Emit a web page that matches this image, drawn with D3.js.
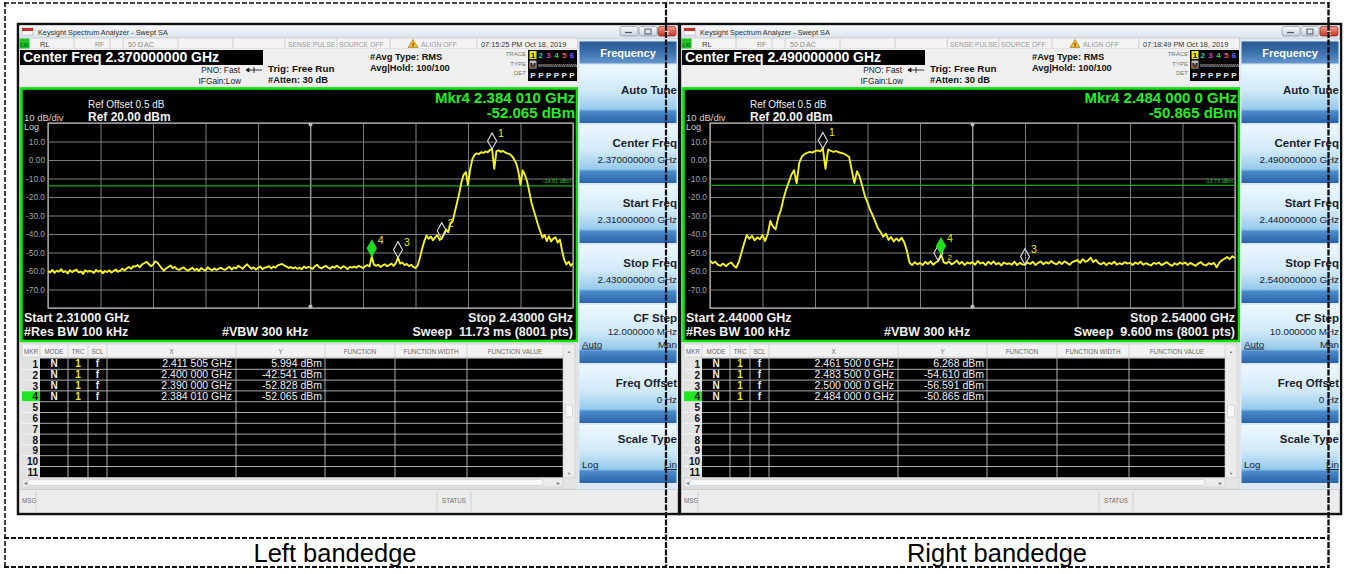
<!DOCTYPE html>
<html><head><meta charset="utf-8">
<script src="https://cdn.jsdelivr.net/npm/d3@7"></script>
<style>body{margin:0;background:#fff}svg{display:block}text{font-family:"Liberation Sans",Arial,sans-serif}</style>
</head><body><svg id="c" width="1351" height="574"></svg>
<script>
// ---------------- data ----------------
const captions = ["Left bandedge", "Right bandedge"];
const centerFreqText = ["2.370000000 GHz", "2.490000000 GHz"];
const startFreqs = [2.31, 2.44];
const stopFreqs = [2.43, 2.54];
const startText = ["2.31000 GHz", "2.44000 GHz"];
const stopText = ["2.43000 GHz", "2.54000 GHz"];
const sweepText = ["11.73 ms (8001 pts)", "9.600 ms (8001 pts)"];
const timeText = ["07:15:25 PM Oct 18, 2019", "07:18:49 PM Oct 18, 2019"];
const mkr4FreqText = ["2.384 010 GHz", "2.484 000 0 GHz"];
const mkr4LevelText = ["-52.065 dBm", "-50.865 dBm"];
const displayLineLevel = [-14.01, -13.73];
const displayLineText = ["-14.01 dBm", "-13.73 dBm"];
const cfStepText = ["12.000000 MHz", "10.000000 MHz"];
const startKeyText = ["2.310000000 GHz", "2.440000000 GHz"];
const stopKeyText = ["2.430000000 GHz", "2.540000000 GHz"];

const refLevel = 20, bottomLevel = -80;
const yGridLevels = [20, 10, 0, -10, -20, -30, -40, -50, -60, -70, -80];
const yTickLabels = ["", "10.0", "0.00", "-10.0", "-20.0", "-30.0", "-40.0", "-50.0", "-60.0", "-70.0", ""];

const markerIds = [1, 2, 3, 4];
const markerFreqL = [2.411505, 2.400, 2.390, 2.38401];
const markerLevelL = [5.994, -42.541, -52.828, -52.065];
const markerXTextL = ["2.411 505 GHz", "2.400 000 GHz", "2.390 000 GHz", "2.384 010 GHz"];
const markerYTextL = ["5.994 dBm", "-42.541 dBm", "-52.828 dBm", "-52.065 dBm"];
const markerFreqR = [2.4615, 2.4835, 2.500, 2.484];
const markerLevelR = [6.268, -54.610, -56.591, -50.865];
const markerXTextR = ["2.461 500 0 GHz", "2.483 500 0 GHz", "2.500 000 0 GHz", "2.484 000 0 GHz"];
const markerYTextR = ["6.268 dBm", "-54.610 dBm", "-56.591 dBm", "-50.865 dBm"];

const traceStep = 0.0005; // GHz between trace samples
const traceLeft = [
 -60,-60.8,-59.4,-61,-59.8,-60.4,-59,-60.6,-60,-61.4,-59.6,-60.6,-59.8,-59.2,-60.8,-60.2,-61.6,-59.6,-60.4,-60,
 -60.2,-61,-59.4,-60.4,-59.8,-61.2,-60,-60.6,-59.6,-60.8,-60,-59.2,-60.4,-59.8,-58.8,-59.6,-58.6,-57.8,-58.8,-57.4,
 -57.6,-56.8,-58,-56.4,-55.8,-55,-56.2,-57.4,-56.6,-54.8,-55.4,-57,-58.6,-59.8,-58.6,-57.8,-57,-58.4,-57.8,-59,
 -59.4,-58.6,-58,-59.2,-59.8,-59,-58.2,-59.6,-58.8,-60,-58.4,-59.2,-59.8,-58,-59,-59.6,-58.6,-59.4,-58.8,-58.2,
 -59,-59.4,-58.4,-57.8,-59.2,-58,-58.6,-57.2,-58,-58.8,-57.4,-56.4,-57.6,-58.8,-58,-59.2,-58.4,-57.6,-59,-58.2,
 -58,-57.4,-58.6,-57.6,-58.2,-57,-56.6,-56.2,-57,-57.6,-58.4,-57.8,-58.6,-58,-58.8,-58.2,-59,-57.6,-58.4,-57.8,
 -58.2,-58.8,-57.4,-56.6,-58,-58.6,-57.8,-57.2,-58.2,-58.8,-57.6,-58.2,-57.2,-58,-58.6,-57.4,-58,-59,-57.8,-58.2,
 -57.6,-58.2,-57.2,-57.8,-58.4,-57.4,-56.8,-57.6,-52.1,-56.6,-57.2,-56.6,-57.8,-57,-56.4,-57.4,-56.8,-56,-57.2,-55.8,
 -52.8,-56,-55.4,-56.8,-56.2,-57.4,-56.6,-57.8,-58.4,-57,-53,-48,-44,-40.8,-42.6,-41.4,-43.4,-41.8,-40.6,-43.2,
 -42.5,-40,-37.5,-39,-34,-33,-28,-23,-18,-12,-8,-6.5,-13.5,-5,0.5,2.8,3.6,3.2,4.2,3.8,
 4.6,4.2,5.4,6.0,-4.8,4.8,5.2,4.4,4.9,4.1,3.6,3.2,2.2,0.6,-1.8,-6,-13.4,-5.6,-8,-11.5,
 -17,-23,-27,-31,-35,-38.5,-42,-40.5,-43.8,-41.2,-44,-42.5,-41.8,-44.6,-43,-49,-54,-56.5,-55,-57.2,-55.8
];
const traceRight = [
 -54.5,-55.8,-55,-56.6,-57.2,-56,-57.4,-56.2,-55.4,-57,-58.2,-55,-50,-45,-40.5,-42.6,-41,-43.4,-41.8,-42.8,
 -40.6,-43.8,-40,-33,-36,-37.5,-31,-27,-21,-16,-12,-8,-5.5,-12.6,-1.5,1.8,3.2,3.8,4.4,4.0,
 4.8,5.2,4.6,6.3,-4.8,5.6,5.0,4.4,4.8,4.2,3.8,3.4,2.6,1.6,-5.5,-12.5,-6,-9,-14,-19.5,
 -23,-27,-30,-33.5,-37,-39,-41.5,-39.8,-43.2,-41.6,-44,-42.4,-43.8,-42,-44.6,-49,-55.5,-56.8,-55.2,-56.4,
 -55.6,-56.8,-55,-56.2,-54.8,-56.6,-55.4,-54.6,-50.9,-55.2,-56,-54.8,-56.4,-55.6,-54.4,-56.2,-55,-56.8,-55.4,-56,
 -55.2,-56.6,-54.6,-56,-55.4,-56.8,-55,-56.2,-54.8,-56.4,-55.6,-57,-55.4,-56.2,-55.8,-56.6,-55,-56.8,-55.6,-56.4,
 -56.6,-55.4,-56.2,-55,-56.8,-55.6,-54.8,-56.4,-55.2,-56,-54.6,-55.8,-56.4,-55,-56.2,-54.8,-55.6,-56.6,-55.2,-54.6,
 -54.2,-55.6,-53.6,-55,-54.4,-52.8,-55.2,-54,-55.8,-56.4,-55.4,-56.8,-55.6,-56.2,-55,-56.6,-55.8,-56.4,-55.2,-56,
 -55.6,-56.8,-55.4,-56.2,-55,-56.6,-55.8,-56.4,-57,-55.6,-56.2,-55.4,-56.8,-56,-55.2,-56.4,-57.2,-55.8,-56.6,-55.4,
 -56.2,-55.4,-56.8,-55.6,-56.4,-57.2,-56,-55.2,-56.6,-57,-55.8,-56.4,-55.6,-58,-55.5,-54.2,-53.4,-52.4,-53.6,-52,-53
];
const tableCols = ["MKR","MODE","TRC","SCL","X","Y","FUNCTION","FUNCTION WIDTH","FUNCTION VALUE"];
const softKeys = ["Auto Tune","Center Freq","Start Freq","Stop Freq","CF Step","Freq Offset","Scale Type"];

// ---------------- drawing ----------------
const svg = d3.select("#c");
const defs = svg.append("defs");
function grad(id, stops){
  const g = defs.append("linearGradient").attr("id", id).attr("x1",0).attr("y1",0).attr("x2",0).attr("y2",1);
  stops.forEach(s => g.append("stop").attr("offset", s[0]).attr("stop-color", s[1]));
}
grad("gTitle", [[0,"#f8fafc"],[1,"#d9e2ec"]]);
grad("gKey", [[0,"#eef8fe"],[0.45,"#cfe9f8"],[0.76,"#96c9ec"],[0.8,"#4b8bcb"],[1,"#2a64a9"]]);
grad("gHead", [[0,"#27578f"],[0.5,"#3b70ae"],[1,"#6597cc"]]);
grad("gBtn", [[0,"#fbfcfd"],[1,"#c5cfdb"]]);
grad("gClose", [[0,"#f29b8f"],[1,"#c6321f"]]);

function T(g, x, y, s, o = {}){
  const t = g.append("text").attr("x", x).attr("y", y).text(s)
    .attr("font-size", o.size || 10).attr("fill", o.fill || "#000");
  if (o.bold) t.attr("font-weight", "bold");
  if (o.anchor) t.attr("text-anchor", o.anchor);
  if (o.ul) t.attr("text-decoration", "underline");
  return t;
}
function R(g, x, y, w, h, fill, stroke, sw){
  const r = g.append("rect").attr("x", x).attr("y", y).attr("width", w).attr("height", h).attr("fill", fill || "none");
  if (stroke) r.attr("stroke", stroke).attr("stroke-width", sw || 1);
  return r;
}
function L(g, x1, y1, x2, y2, c, w){
  return g.append("line").attr("x1",x1).attr("y1",y1).attr("x2",x2).attr("y2",y2).attr("stroke",c).attr("stroke-width",w||1);
}

function drawScreen(s, x0, trace, mF, mL, mX, mY){
  const g = svg.append("g");
  const X = r => x0 + r;
  // window frame
  R(g, x0, 24, 661, 490, "#d8d8d8", "#111", 2.5);
  // title bar
  R(g, X(1.5), 25.5, 658, 12.5, "url(#gTitle)");
  R(g, X(4), 28, 11, 7, "#fff", "#999", 0.5);
  R(g, X(4), 28, 11, 3, "#c8302a");
  T(g, X(20), 35, "Keysight Spectrum Analyzer - Swept SA", {size: 7.3, fill: "#333"});
  [602, 621].forEach(b => R(g, X(b), 26.5, 18, 9.5, "url(#gBtn)", "#8797ab", 0.7).attr("rx", 2));
  R(g, X(640), 26.5, 18, 9.5, "url(#gClose)", "#8a2a20", 0.7).attr("rx", 2);
  L(g, X(607), 32.5, X(614), 32.5, "#556", 1.2);
  R(g, X(627), 29, 6, 5, "none", "#556", 1);
  T(g, X(649), 34.5, "x", {size: 8, fill: "#fff", bold: true, anchor: "middle"});

  // status row
  R(g, X(1.5), 38, 558, 11, "#f3f3f3", "#bcbcbc", 0.6);
  R(g, X(1.5), 38.5, 10, 10, "#1fc21f");
  T(g, X(2.5), 46.5, "LXI", {size: 5, fill: "#063", bold: true});
  [56, 92, 105, 160, 215, 267, 319, 372, 459].forEach(v => L(g, X(v), 38.5, X(v), 48.5, "#c4c4c4", 0.8));
  T(g, X(22), 46.5, "RL", {size: 7.5, fill: "#333"});
  T(g, X(77), 46.5, "RF", {size: 7, fill: "#888"});
  T(g, X(110), 46.5, "50 Ω", {size: 7, fill: "#888"});
  T(g, X(126), 46.5, "AC", {size: 7, fill: "#888"});
  T(g, X(270), 46.5, "SENSE:PULSE", {size: 6.8, fill: "#9a9a9a"});
  T(g, X(321), 46.5, "SOURCE OFF", {size: 6.8, fill: "#9a9a9a"});
  g.append("path").attr("d", `M${X(390)},47.5 L${X(395)},39.5 L${X(400)},47.5 Z`).attr("fill", "#f0c020").attr("stroke", "#806000").attr("stroke-width", 0.5);
  T(g, X(395), 46.8, "!", {size: 6, bold: true, anchor: "middle"});
  T(g, X(403), 46.5, "ALIGN OFF", {size: 6.8, fill: "#9a9a9a"});
  T(g, X(463), 46.5, timeText[s], {size: 7.3, fill: "#333"});

  // header info
  R(g, X(1.5), 49, 558, 38, "#efefef");
  R(g, X(2), 50, 243, 15, "#000");
  T(g, X(5), 62, "Center Freq " + centerFreqText[s], {size: 14, bold: true, fill: "#fff"});
  T(g, X(222), 73, "PNO: Fast", {size: 8.3, fill: "#222", anchor: "end"});
  T(g, X(223), 84, "IFGain:Low", {size: 8.3, fill: "#222", anchor: "end"});
  g.append("path").attr("d", `M${X(228)},70 H${X(244)} M${X(236)},67 V73 M${X(228)},70 l3,-2 v4 z`).attr("stroke", "#222").attr("stroke-width", 0.9).attr("fill", "#222");
  T(g, X(250), 72, "Trig: Free Run", {size: 9.8, bold: true, fill: "#111"});
  T(g, X(250), 83, "#Atten: 30 dB", {size: 9.3, bold: true, fill: "#111"});
  T(g, X(352), 60, "#Avg Type: RMS", {size: 9.3, bold: true, fill: "#111"});
  T(g, X(352), 71, "Avg|Hold: 100/100", {size: 9.3, bold: true, fill: "#111"});
  T(g, X(508), 56, "TRACE", {size: 6, fill: "#777", anchor: "end"});
  T(g, X(508), 65.5, "TYPE", {size: 6, fill: "#777", anchor: "end"});
  T(g, X(508), 75, "DET", {size: 6, fill: "#777", anchor: "end"});
  R(g, X(510), 50, 49, 31, "#000");
  const trColors = ["#111", "#10d0d0", "#d040c8", "#40d040", "#ff4a6a", "#6a6aff"];
  R(g, X(511.5), 51, 7, 8, "#e6e600");
  ["1","2","3","4","5","6"].forEach((d, k) => T(g, X(515 + k * 7.8), 58, d, {size: 8, bold: true, fill: trColors[k], anchor: "middle"}));
  R(g, X(511.5), 60.5, 7, 8, "#bbb");
  T(g, X(515), 67.5, "M", {size: 7, bold: true, fill: "#000", anchor: "middle"});
  T(g, X(520), 67, "WWWWWWWWWW", {size: 4.2, fill: "#ddd"});
  ["P","P","P","P","P","P"].forEach((d, k) => T(g, X(515 + k * 7.8), 77.5, d, {size: 8, bold: true, fill: "#eee", anchor: "middle"}));

  // plot area
  R(g, X(3.5), 88.5, 555.5, 252.5, "#000", "#00e600", 2.6);
  const x = d3.scaleLinear().domain([startFreqs[s], stopFreqs[s]]).range([X(30), X(555)]);
  const y = d3.scaleLinear().domain([refLevel, bottomLevel]).range([123, 308]);
  T(g, X(70), 108, "Ref Offset 0.5 dB", {size: 10, fill: "#eee"});
  T(g, X(70), 121, "Ref 20.00 dBm", {size: 12, bold: true, fill: "#f2f2f2"});
  T(g, X(6), 121, "10 dB/div", {size: 9.5, fill: "#cfcfcf"});
  T(g, X(6), 129.5, "Log", {size: 9, fill: "#cfcfcf"});
  T(g, X(557), 103, "Mkr4 " + mkr4FreqText[s], {size: 15, bold: true, fill: "#22ee22", anchor: "end"});
  T(g, X(557), 117.5, mkr4LevelText[s], {size: 15, bold: true, fill: "#22ee22", anchor: "end"});

  // graticule
  const xTicks = d3.range(11).map(k => startFreqs[s] + k * (stopFreqs[s] - startFreqs[s]) / 10);
  g.append("g").attr("transform", "translate(0,123)")
    .call(d3.axisBottom(x).tickValues(xTicks).tickSize(185).tickFormat(""))
    .call(a => { a.select(".domain").remove(); a.selectAll("line").attr("stroke", "#7c7c7c"); });
  const ya = g.append("g").attr("transform", `translate(${X(30)},0)`)
    .call(d3.axisLeft(y).tickValues(yGridLevels).tickSize(-525).tickPadding(3).tickFormat((d, i) => yTickLabels[i]));
  ya.select(".domain").remove();
  ya.selectAll("line").attr("stroke", "#7c7c7c");
  ya.attr("font-family", null).attr("font-size", null);
  ya.selectAll("text").attr("fill", "#a6a6a6").attr("font-size", 8.3).attr("font-family", "Liberation Sans, Arial, sans-serif");
  R(g, X(30), 123, 525, 185, "none", "#a8a8a8", 1.3);
  const cx = x(xTicks[5]);
  L(g, cx, 123, cx, 308, "#9a9a9a", 1);
  g.append("circle").attr("cx", cx).attr("cy", 124.5).attr("r", 2).attr("fill", "#bbb");
  g.append("circle").attr("cx", cx).attr("cy", 306.5).attr("r", 2).attr("fill", "#bbb");

  // display line
  L(g, X(30), y(displayLineLevel[s]), X(555), y(displayLineLevel[s]), "#13a813", 1.2);
  T(g, X(553), y(displayLineLevel[s]) - 2.5, displayLineText[s], {size: 5.5, fill: "#22c022", anchor: "end"});

  // trace
  const clipId = "clip" + s;
  defs.append("clipPath").attr("id", clipId).append("rect").attr("x", X(30)).attr("y", 123).attr("width", 525).attr("height", 185);
  const line = d3.line().x((d, i) => x(startFreqs[s] + i * traceStep)).y(d => y(d));
  g.append("path").attr("d", line(trace)).attr("fill", "none").attr("stroke", "#f4f41c")
    .attr("stroke-width", 1.9).attr("stroke-linejoin", "round").attr("clip-path", `url(#${clipId})`);

  // markers (marker 4 drawn last, on top)
  [0, 1, 2, 3].forEach(k => {
    const px = x(mF[k]), py = y(mL[k]);
    const active = markerIds[k] === 4;
    g.append("path").attr("d", `M${px},${py} L${px + 4.5},${py - 8} L${px},${py - 16} L${px - 4.5},${py - 8} Z`)
      .attr("fill", active ? "#1de01d" : "none").attr("stroke", active ? "#1de01d" : "#e0e0e0").attr("stroke-width", 1.1);
    // a label that would collide with marker 4's label is tucked below it
    const hidden = !active && Math.abs(px - x(mF[3])) < 8;
    T(g, px + (hidden ? 9 : 6), py - (hidden ? 1 : 12), String(markerIds[k]), {size: hidden ? 8 : 10.5, fill: "#e8e81a"});
  });

  // bottom plot text
  T(g, X(6), 322, "Start " + startText[s], {size: 12.5, bold: true, fill: "#f0f0f0"});
  T(g, X(6), 336, "#Res BW 100 kHz", {size: 12.5, bold: true, fill: "#f0f0f0"});
  T(g, X(204), 336, "#VBW 300 kHz", {size: 12.5, bold: true, fill: "#f0f0f0"});
  T(g, X(555), 322, "Stop " + stopText[s], {size: 12.5, bold: true, fill: "#f0f0f0", anchor: "end"});
  T(g, X(555), 336, "Sweep  " + sweepText[s], {size: 12.5, bold: true, fill: "#f0f0f0", anchor: "end"}).style("white-space", "pre");

  // marker table
  R(g, X(1.5), 342.5, 558, 146, "#e4e4e4");
  const colEdges = [4, 22, 50, 70, 89, 218, 307, 377, 449, 545];
  R(g, X(4), 344, 553, 13, "#f2f2f2", "#c8c8c8", 0.6);
  tableCols.forEach((c, i) => {
    T(g, X((colEdges[i] + colEdges[i + 1]) / 2), 353.5, c, {size: 6.3, fill: "#6a6a6a", anchor: "middle"});
    if (i > 0) L(g, X(colEdges[i]), 344.5, X(colEdges[i]), 357, "#c8c8c8", 0.7);
  });
  const rowH = 10.8, row0 = 358.5;
  R(g, X(4), row0, 18, rowH * 11, "#e2e2e2");
  R(g, X(22), row0, 523, rowH * 11, "#000");
  R(g, X(4), row0 + rowH * 3, 18, rowH, "#22e622");
  for (let r = 1; r < 11; r++) L(g, X(22), row0 + r * rowH, X(545), row0 + r * rowH, "#d8d8d8", 0.8);
  for (let r = 1; r < 11; r++) L(g, X(4), row0 + r * rowH, X(22), row0 + r * rowH, "#fafafa", 0.8);
  colEdges.slice(2, 9).forEach(c => L(g, X(c), row0, X(c), row0 + 11 * rowH, "#d8d8d8", 0.8));
  d3.range(1, 12).forEach(r => T(g, X(20), row0 + (r - 0.5) * rowH + 4, String(r), {size: 10, bold: true, fill: "#111", anchor: "end"}));
  markerIds.forEach((m, k) => {
    const yy = row0 + k * rowH + 8.6;
    T(g, X(36), yy, "N", {size: 10, bold: true, fill: "#f0f0f0", anchor: "middle"});
    T(g, X(60), yy, "1", {size: 10, bold: true, fill: "#e8e81a", anchor: "middle"});
    T(g, X(79.5), yy, "f", {size: 10, bold: true, fill: "#f0f0f0", anchor: "middle"});
    T(g, X(214), yy, mX[k], {size: 10.5, fill: "#f0f0f0", anchor: "end"});
    T(g, X(304), yy, mY[k], {size: 10.5, fill: "#f0f0f0", anchor: "end"});
  });
  // scrollbars
  R(g, X(545), 344, 12, 134, "#ececec", "#c8c8c8", 0.6);
  T(g, X(551), 353, "▲", {size: 4, fill: "#777", anchor: "middle"});
  T(g, X(551), 475, "▼", {size: 4, fill: "#777", anchor: "middle"});
  R(g, X(547.5), 405, 7, 12, "#f8f8f8", "#bbb", 0.5);
  R(g, X(4), 478, 541, 9, "#ececec", "#c8c8c8", 0.6);
  R(g, X(10), 479.5, 515, 6, "#f6f6f6", "#bdbdbd", 0.5).attr("rx", 2);
  T(g, X(7), 485, "◂", {size: 6, fill: "#777", anchor: "middle"});
  T(g, X(540), 485, "▸", {size: 6, fill: "#777", anchor: "middle"});

  // soft keys
  R(g, X(560), 39, 100, 451, "#dce9f4");
  R(g, X(561.5), 41.5, 97, 22, "url(#gHead)");
  T(g, X(610), 56.5, "Frequency", {size: 11, bold: true, fill: "#fff", anchor: "middle"});
  const keyTops = [65, 125, 185, 245, 305, 365, 425];
  softKeys.forEach((k, i) => R(g, X(561.5), keyTops[i], 97, 58, "url(#gKey)"));
  const kOpt = {size: 11.5, bold: true, fill: "#1a1f2e", anchor: "end"};
  const vOpt = {size: 9.8, fill: "#1a1f2e", anchor: "end"};
  T(g, X(659), 94, softKeys[0], kOpt);
  T(g, X(659), 147, softKeys[1], kOpt); T(g, X(659), 163, centerFreqText[s], vOpt);
  T(g, X(659), 207, softKeys[2], kOpt); T(g, X(659), 223, startKeyText[s], vOpt);
  T(g, X(659), 267, softKeys[3], kOpt); T(g, X(659), 283, stopKeyText[s], vOpt);
  T(g, X(659), 322, softKeys[4], kOpt); T(g, X(659), 335, cfStepText[s], vOpt);
  T(g, X(564), 347.5, "Auto", {size: 9.8, fill: "#1a1f2e", ul: true});
  T(g, X(659), 347.5, "Man", vOpt);
  T(g, X(659), 387, softKeys[5], kOpt); T(g, X(659), 403, "0 Hz", vOpt);
  T(g, X(659), 443, softKeys[6], kOpt);
  T(g, X(564), 468, "Log", {size: 9.8, fill: "#1a1f2e"});
  T(g, X(659), 468, "Lin", {size: 9.8, fill: "#1a1f2e", anchor: "end", ul: true});

  // message bar
  R(g, X(1.5), 489.5, 658, 23, "#ececec", "#c0c0c0", 0.6);
  T(g, X(4), 503, "MSG", {size: 6.3, fill: "#707070"});
  L(g, X(18), 491, X(18), 511, "#c8c8c8", 0.7);
  L(g, X(419), 491, X(419), 511, "#c8c8c8", 0.7);
  L(g, X(453), 491, X(453), 511, "#c8c8c8", 0.7);
  T(g, X(436), 503, "STATUS", {size: 6.3, fill: "#707070", anchor: "middle"});
}

drawScreen(0, 18, traceLeft, markerFreqL, markerLevelL, markerXTextL, markerYTextL);
drawScreen(1, 680, traceRight, markerFreqR, markerLevelR, markerXTextR, markerYTextR);

// outer dashed table
const tb = svg.append("g").attr("stroke", "#111").attr("fill", "none");
const dash = (x1, y1, x2, y2, w, da) => tb.append("line").attr("x1", x1).attr("y1", y1).attr("x2", x2).attr("y2", y2)
  .attr("stroke-width", w).attr("stroke-dasharray", da);
dash(4, 3, 1329, 3, 1.6, "5,2");
dash(4, 538, 1329, 538, 2, "5,2");
dash(4, 567, 1329, 567, 2, "5,2");
dash(5, 2, 5, 568, 1.6, "5,2");
dash(666, 2, 666, 568, 2.2, "6,1.5");
dash(1328.5, 2, 1328.5, 568, 2.4, "6,1.5");
svg.append("g").selectAll("text").data(captions).join("text")
  .attr("x", (d, i) => i === 0 ? 335 : 997).attr("y", 562)
  .attr("text-anchor", "middle").attr("font-size", 25.5).attr("fill", "#000").text(d => d);
</script></body></html>
